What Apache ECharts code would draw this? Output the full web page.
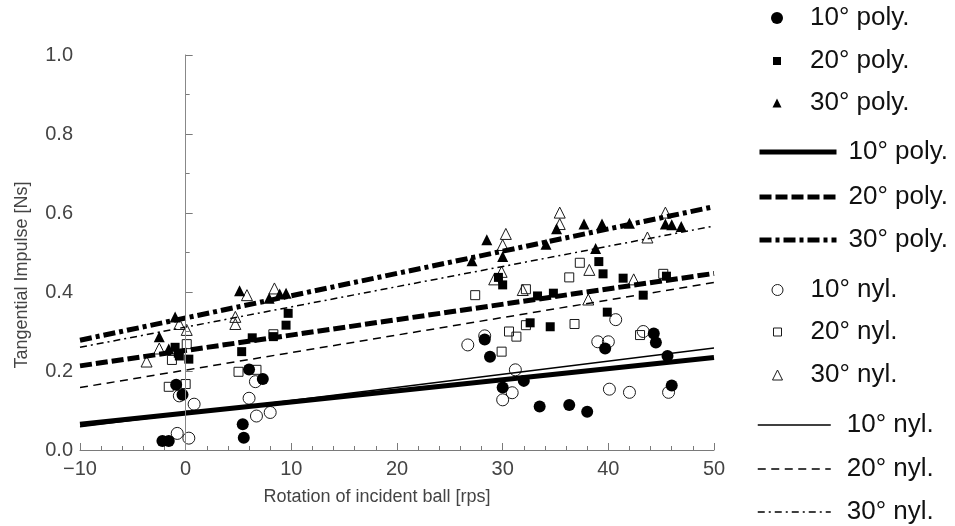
<!DOCTYPE html>
<html>
<head>
<meta charset="utf-8">
<script src="https://cdn.jsdelivr.net/npm/echarts@6/dist/echarts.min.js"></script>
<style>
  html, body { margin: 0; padding: 0; background: #fff; }
  #main { width: 955px; height: 526px; }
</style>
</head>
<body>
<div id="main"></div>
<script>
// measured points [rotation rps, impulse Ns]
const poly10 = [[-2.2,0.023],[-1.6,0.023],[-0.9,0.165],[-0.3,0.140],[5.4,0.065],[5.5,0.031],[6.0,0.204],[7.3,0.180],
  [28.3,0.280],[28.8,0.236],[30.0,0.158],[32.0,0.175],[33.5,0.110],[36.3,0.114],[38.0,0.097],[39.7,0.257],
  [44.3,0.295],[44.5,0.272],[45.6,0.238],[46.0,0.163]];
const poly20 = [[-1.0,0.260],[-0.7,0.245],[0.3,0.230],[-0.6,0.238],[5.3,0.249],[6.3,0.284],[8.3,0.287],[9.5,0.316],[9.7,0.346],
  [29.6,0.437],[30.0,0.418],[33.3,0.390],[34.8,0.397],[32.6,0.322],[34.5,0.312],[39.1,0.477],[39.5,0.446],
  [41.4,0.435],[45.5,0.440],[43.3,0.392],[39.9,0.349]];
const poly30 = [[-1.0,0.337],[-2.5,0.287],[-1.6,0.256],[5.1,0.403],[7.9,0.384],[8.9,0.395],[9.5,0.397],
  [28.5,0.532],[30.0,0.490],[27.1,0.479],[34.1,0.521],[35.1,0.560],[37.7,0.572],[39.4,0.572],[42.0,0.574],
  [45.4,0.572],[46.0,0.570],[46.9,0.566],[38.8,0.510]];
const nyl10 = [[-0.8,0.042],[0.3,0.030],[-0.6,0.137],[0.8,0.116],[6.6,0.173],[6.0,0.131],[6.7,0.086],[8.0,0.095],
  [28.3,0.289],[26.7,0.266],[31.2,0.203],[30.9,0.145],[30.0,0.127],[40.7,0.330],[43.3,0.300],[39.0,0.274],
  [40.0,0.274],[40.1,0.154],[42.0,0.146],[45.7,0.146]];
const nyl20 = [[0.1,0.268],[-1.3,0.228],[-1.6,0.160],[0.0,0.167],[5.0,0.198],[6.7,0.203],[8.3,0.293],
  [27.4,0.392],[32.2,0.407],[36.3,0.437],[37.3,0.474],[45.2,0.446],[30.6,0.300],[31.3,0.287],[32.2,0.316],
  [36.8,0.319],[29.9,0.249],[43.0,0.291]];
const nyl30 = [[-0.6,0.319],[0.1,0.304],[-2.5,0.257],[-3.7,0.224],[5.8,0.392],[4.7,0.337],[4.7,0.319],[8.4,0.409],
  [35.4,0.601],[35.4,0.572],[30.3,0.547],[30.0,0.519],[29.9,0.451],[29.2,0.432],[31.9,0.405],[38.2,0.456],
  [38.1,0.381],[42.4,0.432],[43.7,0.538],[45.4,0.601]];

// fitted lines, value at rotation -10 and 50
const fitX = [-10, 50];
const fitPoly10 = [0.065, 0.234];
const fitPoly20 = [0.213, 0.447];
const fitPoly30 = [0.278, 0.616];
const fitNyl10 = [0.059, 0.258];
const fitNyl20 = [0.158, 0.424];
const fitNyl30 = [0.260, 0.567];

const yTicks = [0, 0.2, 0.4, 0.6, 0.8, 1.0];
const xTicks = [-10, 0, 10, 20, 30, 40, 50];

const font = 'Liberation Sans, Arial, Helvetica, sans-serif';
const axisGray = '#7a7a7a';
const labelGray = '#444';

const chart = echarts.init(document.getElementById('main'));

const toLine = ys => fitX.map((x, i) => [x, ys[i]]);

function scatter(name, data, symbol, size, filled) {
  return {
    name, type: 'scatter', data, symbol, symbolSize: size,
    itemStyle: filled
      ? { color: '#000', opacity: 1 }
      : { color: 'transparent', borderColor: '#1a1a1a', borderWidth: 1, opacity: 1 },
    emphasis: { disabled: true },
    z: filled ? 4 : 2
  };
}
function fit(name, ys, width, dash) {
  return {
    name, type: 'line', data: toLine(ys), symbol: 'none', silent: true,
    lineStyle: { color: '#000', width, type: dash },
    itemStyle: { color: '#000' },
    z: 3
  };
}

const thickDash = [12, 4];
const thickDashDot = [12, 4, 4, 4];
const thinDash = [8, 5.5];
const thinDashDot = [7, 4, 2, 4];

const series = [
  scatter('10° nyl.', nyl10, 'circle', 12, false),
  scatter('20° nyl.', nyl20, 'rect', 9, false),
  scatter('30° nyl.', nyl30, 'triangle', 11, false),
  fit('10° poly. fit', fitPoly10, 5, 'solid'),
  fit('20° poly. fit', fitPoly20, 5, thickDash),
  fit('30° poly. fit', fitPoly30, 5, thickDashDot),
  fit('10° nyl. fit', fitNyl10, 1.5, 'solid'),
  fit('20° nyl. fit', fitNyl20, 1.5, thinDash),
  fit('30° nyl. fit', fitNyl30, 1.5, thinDashDot),
  scatter('10° poly.', poly10, 'circle', 12, true),
  scatter('20° poly.', poly20, 'rect', 9, true),
  scatter('30° poly.', poly30, 'triangle', 11, true)
];

// vertical line at zero rotation
series[0].markLine = {
  silent: true, symbol: 'none', label: { show: false },
  lineStyle: { color: '#888', width: 1, type: 'solid' },
  data: [{ xAxis: 0 }]
};

// one legend per entry so each row can be placed like the original
const legendRows = [
  { name: '10° poly.', cy: 18, size: 12 },
  { name: '20° poly.', cy: 61, size: 8 },
  { name: '30° poly.', cy: 103, size: 9 },
  { name: '10° poly. fit', cy: 152, line: 5, w: 77, dash: 'solid' },
  { name: '20° poly. fit', cy: 197, line: 5, w: 77, dash: thickDash },
  { name: '30° poly. fit', cy: 240, line: 5, w: 77, dash: thickDashDot },
  { name: '10° nyl.', cy: 290, size: 11, open: true },
  { name: '20° nyl.', cy: 332, size: 8, open: true },
  { name: '30° nyl.', cy: 375, size: 10, open: true },
  { name: '10° nyl. fit', cy: 425, line: 1.5, w: 73, dash: 'solid' },
  { name: '20° nyl. fit', cy: 469, line: 1.5, w: 73, dash: thinDash },
  { name: '30° nyl. fit', cy: 512, line: 1.5, w: 73, dash: thinDashDot }
];
const legendFont = 26;
const textLeft = 810;
const legends = legendRows.map(r => {
  const base = {
    data: [r.name], selectedMode: false, padding: 0,
    top: r.cy - legendFont / 2,
    formatter: n => n.replace(' fit', '')
  };
  if (r.line) {
    return Object.assign(base, {
      left: 757, itemWidth: r.w, itemHeight: 10,
      lineStyle: { color: '#000', width: r.line, type: r.dash },
      itemStyle: { opacity: 0, color: 'transparent', borderColor: 'transparent', borderWidth: 0 },
      textStyle: { fontSize: legendFont, color: '#111', fontFamily: font, padding: [0, 0, 0, 846 - (757 + r.w + 5)] }
    });
  }
  const left = 777 - r.size / 2;
  return Object.assign(base, {
    left, itemWidth: r.size, itemHeight: r.size,
    itemStyle: r.open ? { borderWidth: 1 } : { opacity: 1 },
    textStyle: { fontSize: legendFont, color: '#111', fontFamily: font, padding: [0, 0, 0, textLeft - (left + r.size + 5)] }
  });
});

const option = {
  animation: false,
  backgroundColor: '#fff',
  grid: { left: 80, right: 241, top: 55, bottom: 76 },
  legend: legends,
  xAxis: {
    type: 'value', min: xTicks[0], max: xTicks[xTicks.length - 1], interval: 10,
    axisLine: { lineStyle: { color: axisGray, width: 1 } },
    axisTick: { show: true, inside: true, length: 7, lineStyle: { color: axisGray } },
    minorTick: { show: true, splitNumber: 5, length: 4, lineStyle: { color: axisGray } },
    splitLine: { show: false },
    axisLabel: {
      margin: 9, fontSize: 20, color: labelGray, fontFamily: font,
      formatter: v => (v < 0 ? '\u2212' + Math.abs(v) : String(v))
    }
  },
  yAxis: {
    type: 'value', min: yTicks[0], max: yTicks[yTicks.length - 1], interval: 0.2,
    axisLine: { show: true, lineStyle: { color: axisGray, width: 1 } },
    axisTick: { show: true, inside: true, length: 7, lineStyle: { color: axisGray } },
    minorTick: { show: true, splitNumber: 2, length: 4, lineStyle: { color: axisGray } },
    splitLine: { show: false },
    axisLabel: {
      margin: 7, fontSize: 20, color: labelGray, fontFamily: font,
      formatter: v => v.toFixed(1)
    }
  },
  graphic: [
    {
      type: 'text', x: 377, y: 497,
      style: { text: 'Rotation of incident ball [rps]', fontSize: 18, fill: labelGray, fontFamily: font, align: 'center', verticalAlign: 'middle' }
    },
    {
      type: 'text', x: 22, y: 275, rotation: Math.PI / 2,
      style: { text: 'Tangential Impulse [Ns]', fontSize: 18, fill: labelGray, fontFamily: font, align: 'center', verticalAlign: 'middle' }
    }
  ],
  series
};

chart.setOption(option);
</script>
</body>
</html>
